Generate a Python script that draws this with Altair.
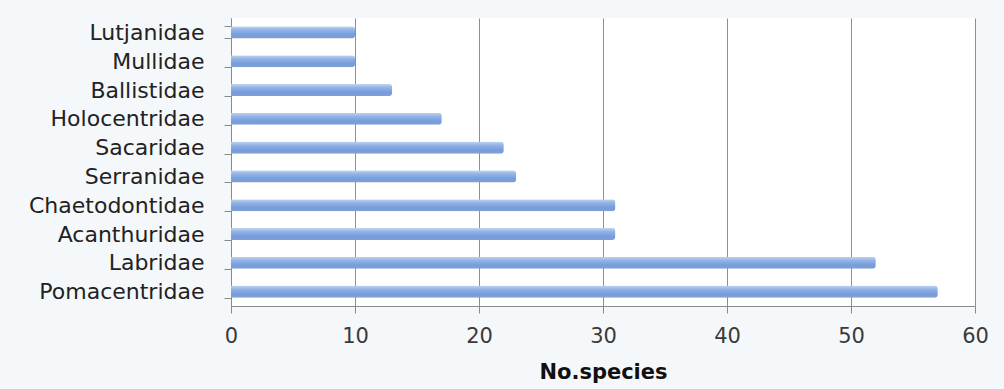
import altair as alt
import pandas as pd

# Reef fish families and number of species recorded per family
families = ["Lutjanidae", "Mullidae", "Ballistidae", "Holocentridae", "Sacaridae",
            "Serranidae", "Chaetodontidae", "Acanthuridae", "Labridae", "Pomacentridae"]
species = [10, 10, 13, 17, 22, 23, 31, 31, 52, 57]
x_ticks = [0, 10, 20, 30, 40, 50, 60]

df = pd.DataFrame({"family": families, "species": species})

bar_fill = alt.Gradient(
    gradient="linear",
    x1=0, x2=0, y1=0, y2=1,
    stops=[
        alt.GradientStop(offset=0, color="#c3d5f1"),
        alt.GradientStop(offset=0.3, color="#92b3e7"),
        alt.GradientStop(offset=0.7, color="#769cdb"),
        alt.GradientStop(offset=1, color="#819fd1"),
    ],
)

FONT = "DejaVu Sans"

chart = (
    alt.Chart(df)
    .mark_bar(color=bar_fill, cornerRadiusEnd=3)
    .encode(
        x=alt.X(
            "species:Q",
            scale=alt.Scale(domain=[0, 60], nice=False),
            axis=alt.Axis(
                values=x_ticks,
                title="No.species",
                titleFont=FONT,
                titleFontSize=21,
                titleFontWeight="bold",
                titleColor="#111111",
                titlePadding=15,
                labelFont=FONT,
                labelFontSize=21,
                labelColor="#3a3a3a",
                labelPadding=12,
                labelFlush=False,
                tickColor="#8a8a8a",
                tickSize=7,
                domainColor="#8a8a8a",
                grid=True,
                gridColor="#8f8f8f",
                gridWidth=1,
            ),
        ),
        y=alt.Y(
            "family:N",
            sort=families,
            scale=alt.Scale(paddingInner=0.58, paddingOuter=0.29),
            axis=alt.Axis(
                title=None,
                labelFont=FONT,
                labelFontSize=22,
                labelColor="#222222",
                labelPadding=20,
                tickColor="#8a8a8a",
                tickSize=7,
                tickBand="extent",
                domainColor="#8a8a8a",
                grid=False,
            ),
        ),
    )
    .properties(
        width=744,
        height=288,
        background="#f5f8fb",
        padding={"left": 231, "top": 18, "right": 29, "bottom": 83},
        autosize=alt.AutoSizeParams(type="none"),
    )
    .configure_view(fill="#ffffff", stroke=None)
)

chart.save("out.html", embed_options={"renderer": "svg", "actions": False})
